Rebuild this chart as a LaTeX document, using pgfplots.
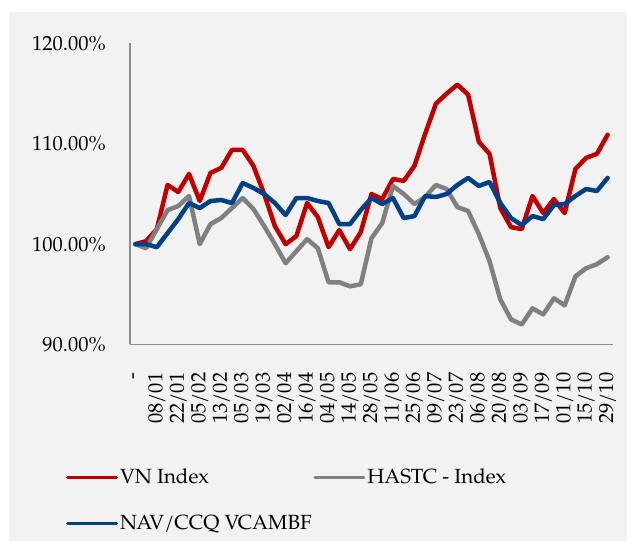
\documentclass[border=0pt]{standalone}
\usepackage{pgfplots}
\pgfplotsset{compat=1.18}
\usepackage{fontspec}
\setmainfont{TeX Gyre Pagella}
\definecolor{bg}{HTML}{F2F2F2}
\definecolor{cred}{HTML}{C00000}
\definecolor{cgray}{HTML}{808080}
\definecolor{cblue}{RGB}{4,64,136}
\definecolor{axc}{HTML}{8C8C8C}
\newcommand\cf{\fontsize{20.5bp}{24bp}\selectfont}
\pgfplotstableread{
i vn hastc nav
0 100.0 100.0 100.0
1 100.3 99.6 100.0
2 101.5 101.5 99.7
3 105.9 103.4 101.1
4 105.2 103.8 102.5
5 107.0 104.8 104.1
6 104.3 100.0 103.6
7 107.1 102.0 104.3
8 107.6 102.6 104.4
9 109.4 103.6 104.1
10 109.4 104.6 106.1
11 107.8 103.5 105.6
12 105.0 101.8 105.0
13 101.8 100.0 104.1
14 100.0 98.1 102.9
15 100.8 99.3 104.6
16 104.1 100.5 104.6
17 102.7 99.6 104.3
18 99.7 96.2 104.1
19 101.4 96.2 102.0
20 99.5 95.8 102.0
21 101.2 96.0 103.4
22 105.0 100.6 104.6
23 104.5 102.1 104.0
24 106.5 105.8 104.6
25 106.3 105.0 102.6
26 107.8 104.0 102.8
27 111.0 104.7 104.8
28 114.0 105.9 104.7
29 115.0 105.5 105.0
30 115.9 103.7 105.9
31 114.9 103.3 106.6
32 110.2 101.0 105.8
33 109.0 98.3 106.2
34 103.6 94.5 104.1
35 101.7 92.5 102.6
36 101.5 92.0 101.9
37 104.8 93.6 102.8
38 103.1 93.0 102.5
39 104.5 94.6 103.9
40 103.1 93.9 104.0
41 107.5 96.8 104.8
42 108.6 97.6 105.5
43 109.0 98.0 105.3
44 110.9 98.7 106.6
}\datatable
\begin{document}
\begin{tikzpicture}
\useasboundingbox (0,0) rectangle (627bp,541bp);
\fill[white] (0,0) rectangle (627bp,541bp);
\fill[bg] (9bp,0) rectangle (627bp,529bp);
\begin{axis}[
  at={(130bp,196.5bp)}, anchor=south west,
  scale only axis, width=483bp, height=301bp,
  xmin=-0.5, xmax=44.5, ymin=90, ymax=120,
  axis x line*=bottom, axis y line*=left,
  axis line style={draw=axc, line width=1.5bp, -},
  major tick length=0pt,
  xtick={0,2,...,44},
  xticklabels={-,08/01,22/01,05/02,13/02,05/03,19/03,02/04,16/04,04/05,14/05,28/05,11/06,25/06,09/07,23/07,06/08,20/08,03/09,17/09,01/10,15/10,29/10},
  ytick={90,100,110,120},
  yticklabels={90.00\%,100.00\%,110.00\%,120.00\%},
  ticklabel style={font=\cf, inner sep=0pt},
  xticklabel style={rotate=90, anchor=east},
  yticklabel style={anchor=east},
  xticklabel shift=28bp,
  yticklabel shift=24bp,
  clip=false,
  every axis plot/.append style={line width=4.5bp, line join=round, line cap=round, mark=none},
  legend columns=2,
  legend cell align=left,
  legend style={at={(axis description cs:-0.1325,-0.5183)}, anchor=west, draw=none, fill=none,
    inner sep=0pt, font=\cf, row sep=23bp,
    nodes={inner sep=2bp, text height=15bp, text depth=4bp},
    /tikz/every even column/.append style={column sep=0bp}},
  legend image code/.code={\draw[#1, line width=3bp, line cap=round] (0bp,0bp) -- (49bp,0bp);},
]
\addplot[cred] table[x=i,y=vn] {\datatable};
\addlegendentry{VN Index}
\addplot[cgray] table[x=i,y=hastc] {\datatable};
\addlegendentry{HASTC - Index}
\addplot[cblue] table[x=i,y=nav] {\datatable};
\addlegendentry{NAV/CCQ VCAMBF}
\end{axis}
\end{tikzpicture}
\end{document}
